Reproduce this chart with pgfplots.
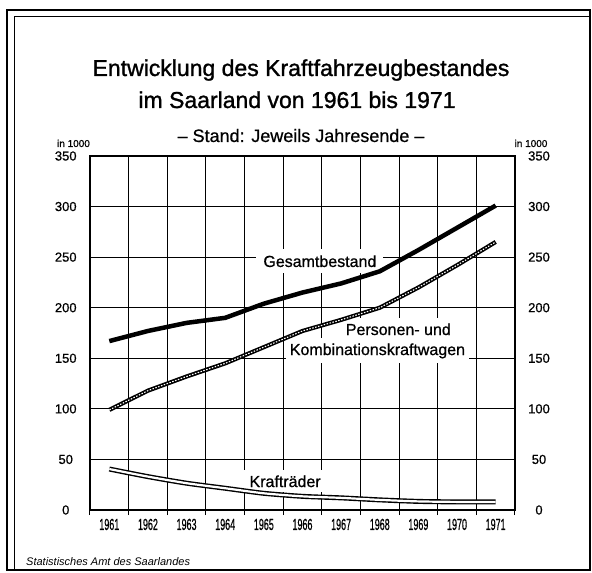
\documentclass[border=0pt]{standalone}
\usepackage{fontspec}
\setmainfont{Liberation Sans}
\newfontface\medfont{Liberation Sans}[FakeBold=1.2]
\newfontface\labfont{Liberation Sans}[FakeBold=0.8]
\usepackage{graphicx}
\usepackage{pgfplots}
\usepackage{pgfplotstable}
\pgfplotsset{compat=1.18}

\pgfplotstableread{
year ges pkw krad
1961 167 99 40.5
1962 177 118 33
1963 185 132 26.5
1964 190 145 21.5
1965 204 161 16.5
1966 215 177 13.5
1967 224 188 12
1968 236 200 10
1969 257 220 8.5
1970 279 242 8
1971 301 265 8
}\data

\newcommand{\yr}[1]{\scalebox{0.56}[1]{#1}}

\begin{document}
\begin{tikzpicture}
\begin{scope}[x=1pt,y=1pt]
\path[use as bounding box] (0,0) rectangle (592,573);
% frame
\draw[line width=2.2pt] (7,3) rectangle (590,563);
\draw[line width=0.8pt] (14,3) -- (14,557) -- (590,557);
% titles
\node[anchor=base, font=\medfont\fontsize{23}{26}\selectfont] at (301,497) {Entwicklung des Kraftfahrzeugbestandes};
\node[anchor=base, font=\medfont\fontsize{23}{26}\selectfont] at (297,465) {im Saarland von 1961 bis 1971};
\node[anchor=base, font=\labfont\fontsize{18}{20}\selectfont] at (301,431) {– Stand: Jeweils Jahresende –};
\node[anchor=base, font=\labfont\fontsize{10}{11}\selectfont] at (73.5,426) {in 1000};
\node[anchor=base, font=\labfont\fontsize{10}{11}\selectfont] at (531,426) {in 1000};
% footer
\node[anchor=base west, font=\itshape\fontsize{11}{13}\selectfont, inner sep=0pt] at (26,7) {Statistisches Amt des Saarlandes};
\end{scope}

\begin{axis}[
  at={(90pt,63pt)}, anchor=south west, scale only axis,
  width=425pt, height=354pt,
  xmin=1960.5, xmax=1971.5, ymin=0, ymax=350,
  axis line style={line width=1.8pt},
  xtick={1961,...,1971},
  xticklabels={\yr{1961},\yr{1962},\yr{1963},\yr{1964},\yr{1965},\yr{1966},\yr{1967},\yr{1968},\yr{1969},\yr{1970},\yr{1971}},
  xticklabel style={font=\labfont\fontsize{16}{16}\selectfont, yshift=-1pt},
  major x tick style={draw=none},
  minor xtick={1960.5,1961.5,...,1971.5},
  minor tick length=5pt,
  tick align=outside,
  xtick pos=bottom,
  xminorgrids=true,
  minor x tick style={line width=1pt, black},
  minor grid style={line width=1pt, black},
  ytick={0,50,...,350},
  ytick style={draw=none},
  ymajorgrids=true,
  major grid style={line width=1pt, black},
  yticklabel style={font=\labfont\fontsize{13}{13}\selectfont, anchor=center, xshift=-20pt},
  /pgf/number format/assume math mode=true,
  clip=false,
]
% label boxes
\node[anchor=base, fill=white, inner xsep=7pt, inner ysep=6pt, font=\labfont\fontsize{16}{18}\selectfont] at (axis cs:1966.45,240.3) {Gesamtbestand};
\node[anchor=base, fill=white, inner xsep=6pt, inner ysep=5pt, font=\labfont\fontsize{16}{18}\selectfont] at (axis cs:1968.48,173) {Personen- und};
\node[anchor=base, fill=white, inner xsep=4pt, inner ysep=5pt, font=\labfont\fontsize{16}{18}\selectfont] at (axis cs:1967.94,153.2) {Kombinationskraftwagen};
\node[anchor=base, fill=white, inner xsep=6pt, inner ysep=5pt, font=\labfont\fontsize{16}{18}\selectfont] at (axis cs:1965.55,22.7) {Krafträder};
% curves
\addplot[black, line width=4.5pt, line join=round, line cap=butt] table[x=year,y=ges]{\data};
\addplot[black, line width=4.2pt, line join=round] table[x=year,y=pkw]{\data};
\addplot[white, line width=1.1pt, dash pattern=on 1.5pt off 1.5pt] table[x=year,y=pkw]{\data};
\addplot[black, line width=5pt, smooth, tension=0.4] table[x=year,y=krad]{\data};
\addplot[white, line width=2.2pt, smooth, tension=0.4] table[x=year,y=krad]{\data};
\end{axis}

\begin{axis}[
  at={(90pt,63pt)}, anchor=south west, scale only axis,
  width=425pt, height=354pt,
  xmin=1960.5, xmax=1971.5, ymin=0, ymax=350,
  axis x line=none, axis y line*=right,
  y axis line style={draw=none},
  ytick={0,50,...,350},
  ytick style={draw=none},
  yticklabel style={font=\labfont\fontsize{13}{13}\selectfont, anchor=center, xshift=24pt},
  /pgf/number format/assume math mode=true,
]
\end{axis}
\end{tikzpicture}
\end{document}
